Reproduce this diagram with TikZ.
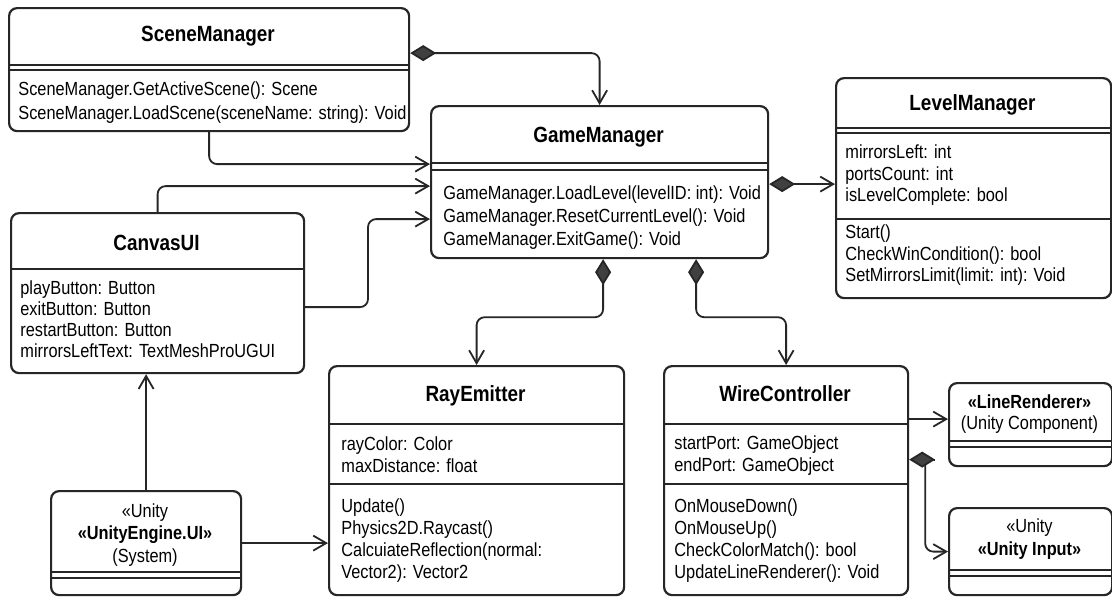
\documentclass[tikz,border=0pt]{standalone}
\usepackage{fontspec}
\setmainfont{Liberation Sans}[FakeStretch=0.86]
\usepackage{tikz}
\usetikzlibrary{arrows.meta}

\begin{document}
\begin{tikzpicture}[x=0.5pt, y=-0.5pt,
    classbox/.style={draw=black!85, line width=1.1pt, rounded corners=4pt, fill=white, anchor=north west, inner sep=0pt},
    ctitle/.style={font=\fontsize{11}{13}\selectfont\bfseries, anchor=base, inner sep=0pt},
    members/.style={font=\fontsize{9.5}{#1}\selectfont, align=left, anchor=north west, inner sep=0pt},
    members/.default=11pt,
    stereo/.style={font=\fontsize{9.5}{#1}\selectfont, align=center, anchor=north, inner sep=0pt},
    stereo/.default=11pt,
    divider/.style={draw=black!85, line width=0.9pt},
    conn/.style={draw=black!85, line width=0.9pt, rounded corners=4pt},
    assoc/.style={conn, -{Straight Barb[length=6.5pt, width=7.5pt]}},
    comp/.style={conn, {Diamond[length=13pt, width=8pt, fill=black!75]}-},
    compassoc/.style={conn, {Diamond[length=13pt, width=8pt, fill=black!75]}-{Straight Barb[length=6.5pt, width=7.5pt]}},
]
    \useasboundingbox[fill=white] (0,0) rectangle (1112,596);

    % SceneManager
    \node[classbox, minimum width=200pt, minimum height=61.5pt] (scene) at (8,7) {};
    \node[ctitle] (scene-title) at (208,41) {SceneManager};
    \draw[divider] (8,65) -- (408,65);
    \draw[divider] (8,70) -- (408,70);
    \node[members=12pt] (scene-ops) at (18,78) {\strut SceneManager.GetActiveScene(): Scene\\SceneManager.LoadScene(sceneName: string): Void};

    % GameManager
    \node[classbox, minimum width=168.5pt, minimum height=76pt] (game) at (430,105) {};
    \node[ctitle] (game-title) at (598.5,142) {GameManager};
    \draw[divider] (430,163) -- (767,163);
    \draw[divider] (430,170) -- (767,170);
    \node[members=11.5pt] (game-ops) at (443,182.5) {\strut GameManager.LoadLevel(levelID: int): Void\\GameManager.ResetCurrentLevel(): Void\\GameManager.ExitGame(): Void};

    % LevelManager
    \node[classbox, minimum width=137.5pt, minimum height=110pt] (level) at (835,77) {};
    \node[ctitle] (level-title) at (972.5,110) {LevelManager};
    \draw[divider] (835,128) -- (1110,128);
    \draw[divider] (835,133) -- (1110,133);
    \node[members=10.75pt] (level-attr) at (845,143.5) {\strut mirrorsLeft: int\\portsCount: int\\isLevelComplete: bool};
    \draw[divider] (835,219) -- (1110,219);
    \node[members=10.75pt] (level-ops) at (845,223.5) {\strut Start()\\CheckWinCondition(): bool\\SetMirrorsLimit(limit: int): Void};

    % CanvasUI
    \node[classbox, minimum width=146.5pt, minimum height=80pt] (canvas) at (10,212) {};
    \node[ctitle] (canvas-title) at (156.5,250) {CanvasUI};
    \draw[divider] (10,269) -- (303,269);
    \node[members=10.5pt] (canvas-attr) at (20,279) {\strut playButton: Button\\exitButton: Button\\restartButton: Button\\mirrorsLeftText: TextMeshProUGUI};

    % UnityEngine.UI
    \node[classbox, minimum width=95pt, minimum height=52pt] (uieng) at (50,490) {};
    \node[stereo=11.25pt] (uieng-name) at (145,501) {\strut «Unity\\\textbf{«UnityEngine.UI»}\\(System)};
    \draw[divider] (50,572) -- (240,572);
    \draw[divider] (50,578) -- (240,578);

    % RayEmitter
    \node[classbox, minimum width=147.5pt, minimum height=114.5pt] (ray) at (328,365) {};
    \node[ctitle] (ray-title) at (475.5,401) {RayEmitter};
    \draw[divider] (328,424) -- (623,424);
    \node[members] (ray-attr) at (341,434.2) {\strut rayColor: Color\\maxDistance: float};
    \draw[divider] (328,484) -- (623,484);
    \node[members] (ray-ops) at (341,496.2) {\strut Update()\\Physics2D.Raycast()\\CalcuiateReflection(normal:\\Vector2): Vector2};

    % WireController
    \node[classbox, minimum width=122pt, minimum height=114.5pt] (wire) at (663,365) {};
    \node[ctitle] (wire-title) at (785,401) {WireController};
    \draw[divider] (663,424) -- (907,424);
    \node[members] (wire-attr) at (674,433.2) {\strut startPort: GameObject\\endPort: GameObject};
    \draw[divider] (663,484) -- (907,484);
    \node[members] (wire-ops) at (674,496.2) {\strut OnMouseDown()\\OnMouseUp()\\CheckColorMatch(): bool\\UpdateLineRenderer(): Void};

    % LineRenderer
    \node[classbox, minimum width=81.5pt, minimum height=41.5pt] (linerend) at (948,382) {};
    \node[stereo=10.5pt] (linerend-name) at (1029.5,393.5) {\strut\textbf{«LineRenderer»}\\(Unity Component)};
    \draw[divider] (948,441) -- (1111,441);
    \draw[divider] (948,447) -- (1111,447);

    % Unity Input
    \node[classbox, minimum width=81.5pt, minimum height=43.5pt] (input) at (948,507) {};
    \node[stereo=11.5pt] (input-name) at (1029.5,516) {\strut «Unity\\\textbf{«Unity Input»}};
    \draw[divider] (948,570) -- (1111,570);
    \draw[divider] (948,576) -- (1111,576);

    % connectors
    \draw[compassoc] ([yshift=8.25pt]scene.east) -| (game.north);
    \draw[assoc] (scene.south) |- ([yshift=9pt]game.west);
    \draw[assoc] (canvas.north) |- ([yshift=-2pt]game.west);
    \draw[assoc] ([yshift=-7pt]canvas.east) -| ([xshift=-31pt, yshift=-18.5pt]game.west) -- ([yshift=-18.5pt]game.west);
    \draw[assoc] (uieng.north) -- (canvas.south -| uieng.north);
    \draw[assoc] (uieng.east) -- (uieng.east -| ray.west);
    \draw[compassoc] ([xshift=1.75pt]game.south) -- ++(0,58) -| (ray.north);
    \draw[compassoc] ([xshift=48.25pt]game.south) -- ++(0,58) -| (wire.north);
    \draw[compassoc] ([yshift=-1pt]game.east) -- ([yshift=-1pt]game.east -| level.west);
    \draw[assoc] ([yshift=2.75pt]linerend.west -| wire.east) -- ([yshift=2.75pt]linerend.west);
    \coordinate (wire-join) at ([xshift=8pt, yshift=10.5pt]wire.east);
    \draw[assoc] (wire-join) |- (input.west);
    \draw[comp] ([yshift=10.5pt]wire.east) -- ++(26,0);
\end{tikzpicture}
\end{document}
